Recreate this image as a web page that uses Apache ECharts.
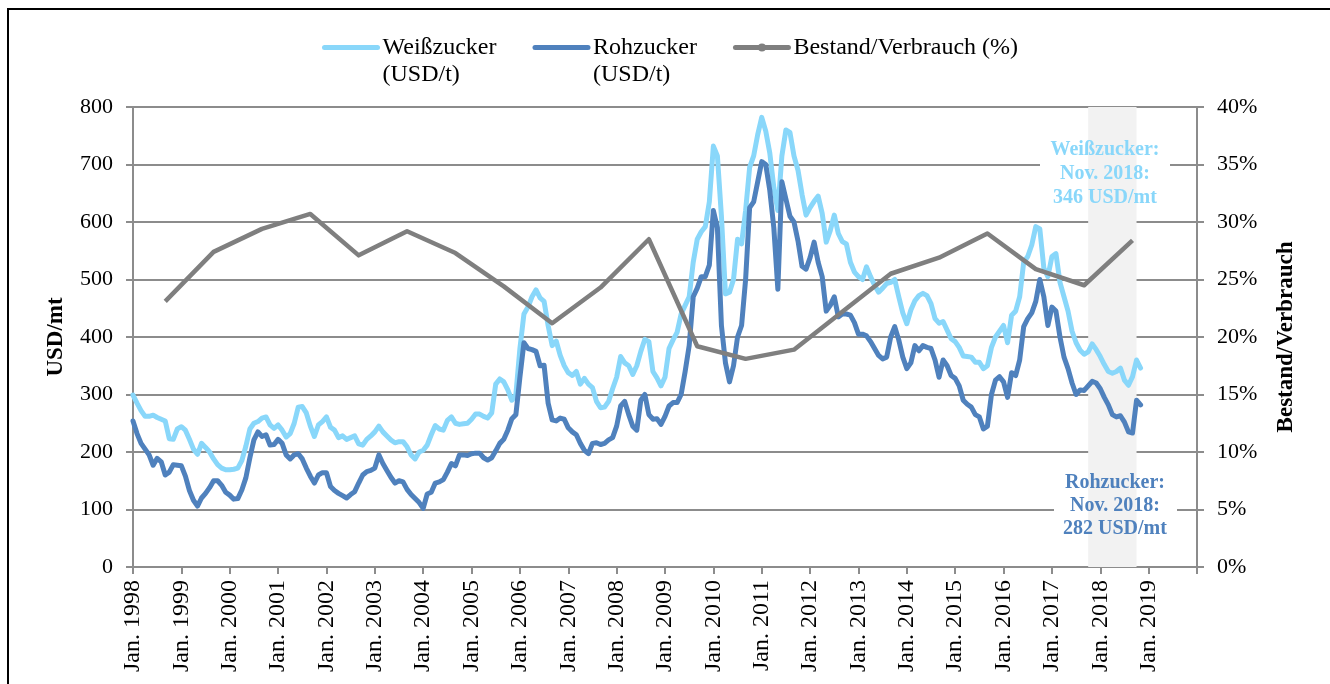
<!DOCTYPE html>
<html>
<head>
<meta charset="utf-8">
<script src="https://cdn.jsdelivr.net/npm/echarts@6/dist/echarts.min.js"></script>
<style>
  html, body { margin: 0; padding: 0; background: #fff; }
  #chart { width: 1330px; height: 684px; }
</style>
</head>
<body>
<div id="chart"></div>
<script>
// Monatswerte Jan. 1998 - Nov. 2018 (USD/t)
const weissZucker = [
  299, 285, 272, 262, 262, 264, 260, 257, 254, 223,
  222, 240, 244, 238, 222, 205, 196, 215, 208, 200,
  188, 178, 172, 169, 169, 170, 172, 185, 210, 240,
  250, 253, 259, 261, 247, 241, 247, 238, 226, 232,
  250, 278, 279, 268, 245, 227, 247, 253, 261, 243,
  238, 225, 228, 222, 225, 228, 214, 212, 222, 228,
  235, 245, 235, 228, 221, 216, 218, 218, 209, 195,
  188, 200, 203, 212, 230, 246, 240, 238, 255, 261,
  250, 248, 249, 250, 257, 266, 266, 262, 259, 268,
  318, 327, 322, 308, 290, 300, 380, 440, 452, 470,
  482, 468, 462, 420, 385, 393, 368, 350, 338, 333,
  340, 318, 328, 318, 312, 288, 277, 278, 288, 310,
  330, 366, 355, 350, 335, 350, 375, 396, 392, 340,
  329, 315, 330, 380, 395, 408, 440, 455, 470, 530,
  570, 583, 592, 635, 732, 715, 610, 475, 478, 500,
  570, 562, 620, 695, 715, 752, 782, 758, 720, 660,
  620, 715, 760, 756, 715, 690, 648, 612, 625, 636,
  645, 615, 565, 585, 612, 580, 566, 562, 530, 513,
  505, 500, 522, 505, 490, 478, 485, 493, 495, 500,
  470, 442, 423, 447, 463, 472, 476, 472, 458, 432,
  424, 427, 412, 397, 392, 382, 367, 366, 365, 356,
  356, 345, 350, 382, 400, 410, 420, 390, 438, 445,
  470, 530, 540, 560, 592, 588, 520, 505, 540, 545,
  495, 470, 445, 410, 390, 377, 370, 374, 388, 378,
  366, 352, 340, 337, 340, 346, 325, 316, 331, 360, 346
];
const rohZucker = [
  254, 232, 215, 205, 195, 177, 189, 183, 160, 165,
  178, 177, 176, 158, 133, 116, 106, 120, 128, 138,
  150, 150, 142, 130, 125, 118, 119, 134, 155, 190,
  221, 235, 227, 230, 212, 213, 222, 215, 195, 188,
  195, 197, 188, 172, 158, 146, 160, 164, 164, 140,
  133, 128, 124, 120, 126, 131, 146, 160, 166, 168,
  172, 195, 180, 168, 156, 146, 150, 148, 135, 126,
  119, 112, 102, 127, 130, 146, 148, 152, 165, 180,
  176, 195, 195, 194, 197, 198, 198, 190, 186, 190,
  202, 215, 222, 238, 258, 265, 330, 390, 380, 378,
  375, 350, 351, 285, 256, 254, 259, 257, 242, 235,
  230, 215, 203, 197, 215, 216, 213, 215, 221, 225,
  245, 280, 288, 265, 245, 238, 290, 300, 265, 257,
  258, 248, 262, 280, 286, 286, 300, 340, 385, 470,
  485, 505, 505, 525, 620, 590, 420, 355, 322, 350,
  400, 420, 500, 625, 635, 670, 705, 700, 655, 590,
  483, 670, 640, 610, 600, 567, 523, 518, 538, 565,
  530, 505, 445, 455, 470, 435, 440, 440, 438, 425,
  405, 405, 402, 392, 380, 368, 362, 365, 400, 418,
  395, 365, 345, 355, 385, 376, 385, 382, 380, 360,
  330, 360, 350, 333, 328, 315, 290, 283, 278, 265,
  261, 240, 245, 300, 325, 331, 322, 295, 338, 333,
  360, 418, 432, 442, 462, 500, 470, 420, 452, 445,
  400, 365, 345, 320, 300, 308, 307, 315, 323, 320,
  310, 295, 282, 265, 261, 263, 252, 235, 233, 290, 282
];
// Bestand/Verbrauch (%), jeweils Sep. 1998 ... Sep. 2018
const bestandVerbrauch = [
  23.1, 27.4, 29.4, 30.7, 27.1, 29.2, 27.3, 24.4, 21.2, 24.3,
  28.5, 19.2, 18.1, 18.9, 22.2, 25.5, 26.9, 29.0, 25.9, 24.5, 28.4
];
const bestandMonat = 8; // September
const bandVon = "2017-10";
const bandBis = "2018-10";

const fontFam = '"Liberation Serif", "Times New Roman", serif';
const farbeWeiss = "#89d7fa";
const farbeRoh = "#4f81bd";
const farbeGrau = "#7f7f7f";
const gitter = "#8c8c8c";

// Kategorien Jan. 1998 .. Jan. 2020
let monate = [];
for (let y = 1998; y <= 2019; y++) {
  for (let m = 0; m < 12; m++) {
    monate.push(m === 0 ? "Jan. " + y : y + "-" + String(m + 1).padStart(2, "0"));
  }
}
monate.push("Jan. 2020");

let bestandDaten = monate.map(() => null);
for (let i = 0; i < bestandVerbrauch.length; i++) {
  bestandDaten[bestandMonat + 12 * i] = bestandVerbrauch[i];
}

const chart = echarts.init(document.getElementById("chart"));
chart.setOption({
  animation: false,
  backgroundColor: "#fff",
  textStyle: { fontFamily: fontFam },
  grid: { left: 133, right: 133, top: 107, bottom: 117 },
  legend: {
    left: 317,
    top: 2,
    itemWidth: 53,
    itemHeight: 10,
    itemGap: 36,
    lineStyle: { width: 5, cap: "round" },
    // erste Zeile auf Höhe des Symbols
    formatter: function (name) {
      return name.indexOf("\n") >= 0 ? " \n" + name : name;
    },
    textStyle: { fontFamily: fontFam, fontSize: 24, color: "#000", lineHeight: 27 },
    data: [
      { name: "Weißzucker\n(USD/t)", itemStyle: { opacity: 0 } },
      { name: "Rohzucker\n(USD/t)", itemStyle: { opacity: 0 } },
      { name: "Bestand/Verbrauch (%)" },
    ],
  },
  xAxis: {
    type: "category",
    data: monate,
    boundaryGap: false,
    axisLine: { lineStyle: { color: gitter, width: 2 } },
    axisTick: {
      show: true,
      length: 7,
      interval: (idx) => idx % 12 === 0,
      lineStyle: { color: gitter, width: 2 },
    },
    axisLabel: {
      interval: (idx) => idx % 12 === 0 && idx < monate.length - 1,
      rotate: 90,
      margin: 13,
      fontSize: 24,
      fontFamily: fontFam,
      color: "#000",
    },
    splitLine: { show: false },
  },
  yAxis: [
    {
      type: "value",
      min: 0,
      max: 800,
      interval: 100,
      name: "USD/mt",
      nameLocation: "middle",
      nameGap: 65,
      nameRotate: 90,
      nameTextStyle: { fontFamily: fontFam, fontSize: 23, fontWeight: "bold", color: "#000" },
      axisLine: { show: true, lineStyle: { color: gitter, width: 2 } },
      axisTick: { show: true, length: 7, lineStyle: { color: gitter, width: 2 } },
      axisLabel: { margin: 20, fontSize: 22, fontFamily: fontFam, color: "#000" },
      splitLine: { lineStyle: { color: gitter, width: 2 } },
    },
    {
      type: "value",
      min: 0,
      max: 40,
      interval: 5,
      name: "Bestand/Verbrauch",
      nameLocation: "middle",
      nameGap: 78,
      nameRotate: 90,
      nameTextStyle: { fontFamily: fontFam, fontSize: 23, fontWeight: "bold", color: "#000" },
      axisLine: { show: true, lineStyle: { color: gitter, width: 2 } },
      axisTick: { show: true, length: 7, lineStyle: { color: gitter, width: 2 } },
      axisLabel: { margin: 20, fontSize: 22, fontFamily: fontFam, color: "#000", formatter: "{value}%" },
      splitLine: { show: false },
    },
  ],
  graphic: [
    {
      type: "rect",
      shape: { x: 8, y: 9, width: 1400, height: 720 },
      style: { fill: "none", stroke: "#000", lineWidth: 2 },
      z: 100,
    },
    { type: "rect", shape: { x: 1040, y: 134, width: 130, height: 78 }, style: { fill: "#fff" }, z: 0.5 },
    { type: "rect", shape: { x: 1054, y: 470, width: 123, height: 76 }, style: { fill: "#fff" }, z: 0.5 },
    {
      type: "text",
      x: 1105,
      y: 174,
      z: 50,
      style: {
        text: "Weißzucker:\nNov. 2018:\n346 USD/mt",
        fill: farbeWeiss,
        font: "bold 20px " + fontFam,
        align: "center",
        verticalAlign: "middle",
        lineHeight: 24,
      },
    },
    {
      type: "text",
      x: 1115,
      y: 506,
      z: 50,
      style: {
        text: "Rohzucker:\nNov. 2018:\n282 USD/mt",
        fill: farbeRoh,
        font: "bold 20px " + fontFam,
        align: "center",
        verticalAlign: "middle",
        lineHeight: 23,
      },
    },
  ],
  series: [
    {
      name: "band",
      type: "line",
      data: [],
      z: 1,
      silent: true,
      markArea: {
        silent: true,
        itemStyle: { color: "#f2f2f2" },
        data: [[{ xAxis: bandVon }, { xAxis: bandBis }]],
      },
    },
    {
      name: "Weißzucker\n(USD/t)",
      type: "line",
      data: weissZucker,
      symbol: "none",
      lineStyle: { color: farbeWeiss, width: 5, cap: "round", join: "round" },
      itemStyle: { color: farbeWeiss },
    },
    {
      name: "Rohzucker\n(USD/t)",
      type: "line",
      data: rohZucker,
      symbol: "none",
      lineStyle: { color: farbeRoh, width: 5, cap: "round", join: "round" },
      itemStyle: { color: farbeRoh },
    },
    {
      name: "Bestand/Verbrauch (%)",
      type: "line",
      yAxisIndex: 1,
      data: bestandDaten,
      connectNulls: true,
      symbol: "circle",
      symbolSize: 7,
      showSymbol: true,
      lineStyle: { color: farbeGrau, width: 4.5, join: "round" },
      itemStyle: { color: farbeGrau },
    },
  ],
});
</script>
</body>
</html>
